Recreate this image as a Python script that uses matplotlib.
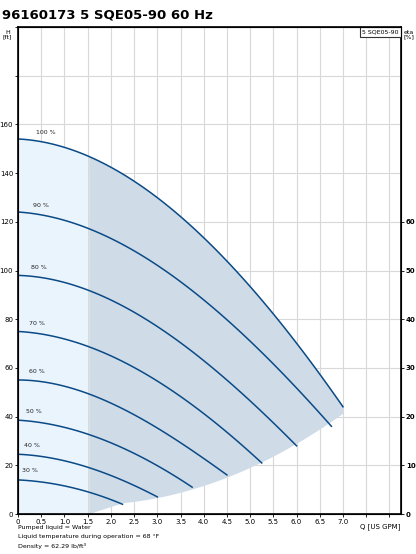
import matplotlib
matplotlib.use("Agg")
import matplotlib.pyplot as plt
import numpy as np

speeds = ["100 %", "90 %", "80 %", "70 %", "60 %", "50 %", "40 %", "30 %"]
curve_q = [
    [0, 1.75, 3.5, 5.25, 7.0],
    [0, 1.69, 3.375, 5.06, 6.75],
    [0, 1.5, 3.0, 4.5, 6.0],
    [0, 1.31, 2.63, 3.94, 5.25],
    [0, 1.125, 2.25, 3.375, 4.5],
    [0, 0.94, 1.875, 2.81, 3.75],
    [0, 0.75, 1.5, 2.25, 3.0],
    [0, 0.56, 1.125, 1.69, 2.25],
]
curve_h = [
    [154, 145, 122, 88, 44],
    [124, 116, 97, 70, 36],
    [98, 92, 77, 55, 28],
    [75, 70, 59, 42, 21],
    [55, 52, 43, 31, 16],
    [38.5, 36, 30, 22, 11],
    [24.5, 23, 19, 14, 7],
    [14, 13, 11, 8, 4],
]
bound_q = [1.5, 2.25, 3.0, 3.75, 4.5, 5.25, 6.0, 6.75, 7.0]
bound_h = [0, 4, 7, 11, 16, 21, 28, 36, 44]
label_q = [0.6, 0.5, 0.45, 0.4, 0.4, 0.35, 0.3, 0.25]

def smooth(q, h, n=100):
    c = np.polyfit(q, h, 3)
    x = np.linspace(q[0], q[-1], n)
    return x, np.polyval(c, x)

fig = plt.figure(figsize=(4.16, 5.54), dpi=100)
ax = fig.add_axes([0.0433, 0.0722, 0.9207, 0.879])
ax.set_xlim(0, 8.25)
ax.set_ylim(0, 200)

x100, h100 = smooth(curve_q[0], curve_h[0], 300)
m = x100 <= 1.5
ax.fill_between(x100[m], 0, h100[m], color="#eaf4fd", zorder=1, lw=0)
m2 = x100 >= 1.5
bc = np.polyfit(bound_q[1:], bound_h[1:], 2)
lower = np.clip(np.polyval(bc, x100[m2]), 0, None)
lower = np.where(x100[m2] < 2.25, np.interp(x100[m2], [1.5, 2.25], [0, np.polyval(bc, 2.25)]), lower)
ax.fill_between(x100[m2], lower, h100[m2], color="#cfdce8", zorder=1, lw=0)

for i, (q, h) in enumerate(zip(curve_q, curve_h)):
    x, y = smooth(q, h)
    ax.plot(x, y, color="#0a4a86", lw=1.1, zorder=3)
    ax.text(label_q[i], np.polyval(np.polyfit(q, h, 3), label_q[i]) + 3, speeds[i],
            fontsize=4.5, color="#222", ha="center", va="bottom", zorder=4)

ax.set_xticks(np.arange(0, 8.01, 0.5))
ax.set_xticklabels([("0" if v == 0 else f"{v:.1f}") for v in np.arange(0, 7.01, 0.5)] + ["", ""], fontsize=5)
ax.text(7.8, -4, "Q [US GPM]", fontsize=5, ha="center", va="top")
ax.set_yticks(np.arange(0, 201, 20))
ax.set_yticklabels([str(v) if v <= 160 else "" for v in range(0, 201, 20)], fontsize=5)
ax.tick_params(length=2, width=0.6, pad=1.5)
ax.grid(True, color="#d8d8d8", lw=0.8, zorder=0)
ax.set_axisbelow(True)
for s in ax.spines.values():
    s.set_linewidth(1.2)

ax2 = ax.twinx()
ax2.set_ylim(0, 100)
ax2.set_yticks(range(0, 61, 10))
ax2.set_yticklabels([str(v) for v in range(0, 61, 10)], fontsize=5, fontweight="bold")
ax2.tick_params(length=2, width=0.6, pad=1.5)

fig.text(0.005, 0.985, "96160173 5 SQE05-90 60 Hz", fontsize=9.5, fontweight="bold", va="top")
fig.text(0.018, 0.946, "H\n[ft]", fontsize=4.5, ha="center", va="top", linespacing=0.8)
fig.text(0.983, 0.946, "eta\n[%]", fontsize=4.5, ha="center", va="top", linespacing=0.8)
ax.text(0.947, 0.995, "5 SQE05-90", transform=ax.transAxes, fontsize=4.5, ha="center", va="top",
        bbox=dict(boxstyle="square,pad=0.4", fc="white", ec="#333", lw=0.8), zorder=5)

fig.text(0.043, 0.052, "Pumped liquid = Water", fontsize=4.5, va="top")
fig.text(0.043, 0.036, "Liquid temperature during operation = 68 °F", fontsize=4.5, va="top")
fig.text(0.043, 0.020, "Density = 62.29 lb/ft³", fontsize=4.5, va="top")

fig.savefig("out.png", dpi=100)
